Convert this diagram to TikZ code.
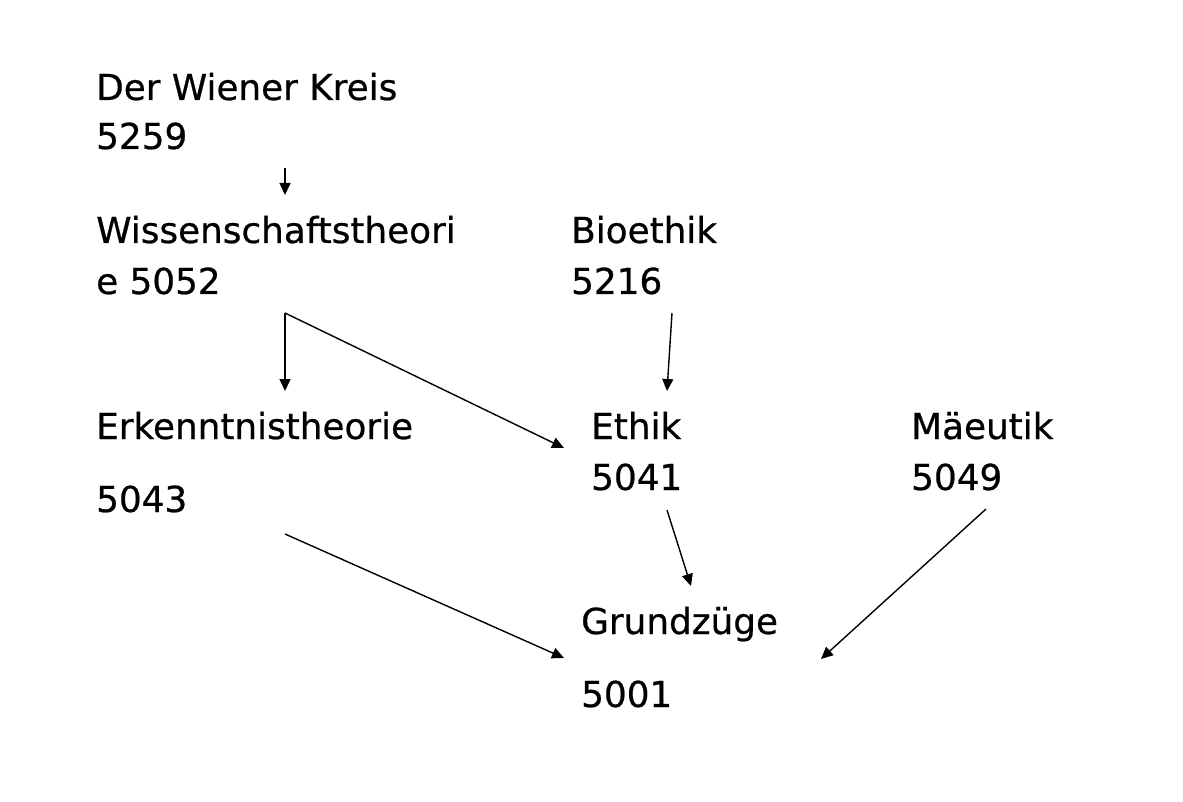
\documentclass[tikz,border=0pt]{standalone}
\usepackage{fontspec}
\setmainfont{DejaVu Sans}[FakeBold=0.6]
\usetikzlibrary{arrows.meta}
\begin{document}
\begin{tikzpicture}[x=1pt,y=-1pt,
  lbl/.style={anchor=base west,inner sep=0pt,font=\fontsize{35.8}{40}\selectfont},
  arr/.style={line width=1.4pt,-{Triangle[length=12pt,width=11pt]}}]
\useasboundingbox (0,0) rectangle (1183,802);
% labels
\node[lbl] (wk)  at (96,100) {Der Wiener Kreis};
\node[lbl] (wkn) at (96,149) {5259};
\node[lbl] (ws)  at (96,243) {Wissenschaftstheori};
\node[lbl] (wsn) at (96,294) {e 5052};
\node[lbl] (bio)  at (571,243) {Bioethik};
\node[lbl] (bion) at (571,294) {5216};
\node[lbl] (erk)  at (96,439) {Erkenntnistheorie};
\node[lbl] (erkn) at (96,512) {5043};
\node[lbl] (eth)  at (591,439) {Ethik};
\node[lbl] (ethn) at (591,490) {5041};
\node[lbl] (mae)  at (911,439) {Mäeutik};
\node[lbl] (maen) at (911,490) {5049};
\node[lbl] (gz)  at (581,634) {Grundzüge};
\node[lbl] (gzn) at (581,707) {5001};
% connector end points
\coordinate (wkout) at (285,168);
\coordinate (wsin) at (285,195);
\coordinate (wsout) at (285,313);
\coordinate (erkin) at (285,391);
\coordinate (ethin) at (564,448);
\coordinate (bioout) at (672,313);
\coordinate (ethin2) at (667,391);
\coordinate (erkout) at (285,534);
\coordinate (gzin1) at (564,658);
\coordinate (ethout) at (667,510);
\coordinate (gzin2) at (691,586);
\coordinate (maeout) at (986,509);
\coordinate (gzin3) at (821,659);
% connectors
\draw[arr] (wkout) -- (wsin);
\draw[arr] (wsout) -- (erkin);
\draw[arr] (wsout) -- (ethin);
\draw[arr] (bioout) -- (ethin2);
\draw[arr] (erkout) -- (gzin1);
\draw[arr] (ethout) -- (gzin2);
\draw[arr] (maeout) -- (gzin3);
\end{tikzpicture}
\end{document}
